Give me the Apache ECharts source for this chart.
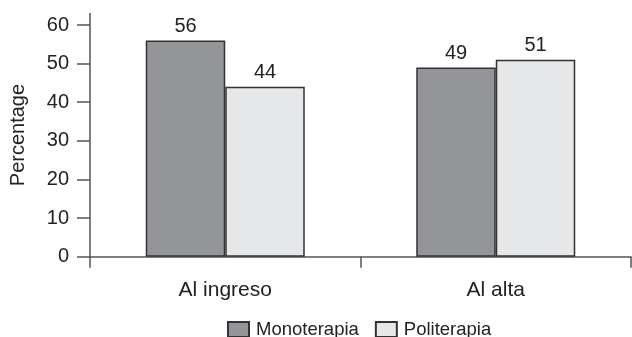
<!DOCTYPE html>
<html>
<head>
<meta charset="utf-8">
<script src="https://cdn.jsdelivr.net/npm/echarts@6/dist/echarts.min.js"></script>
<style>html,body{margin:0;padding:0;background:#fff}#c{width:632px;height:337px}</style>
</head>
<body>
<div id="c"></div>
<script>
var categories = ['Al ingreso', 'Al alta'];
var monoterapia = [56, 49];
var politerapia = [44, 51];
var yTicks = [0, 10, 20, 30, 40, 50, 60];
var seriesNames = ['Monoterapia', 'Politerapia'];

var FONT = '"Liberation Sans", Arial, sans-serif';
var chart = echarts.init(document.getElementById('c'), null, {renderer: 'canvas'});
chart.setOption({
  animation: false,
  backgroundColor: '#fff',
  grid: {left: 90, right: 1, top: 13.4, bottom: 80.3},
  legend: {
    data: seriesNames,
    left: 227, top: 320, padding: 0,
    itemWidth: 21, itemHeight: 15, itemGap: 16,
    textStyle: {fontFamily: FONT, fontSize: 18.5, color: '#222', padding: [0, 0, 0, 2]},
    icon: 'rect'
  },
  xAxis: {
    type: 'category',
    data: categories,
    axisLine: {lineStyle: {color: '#555', width: 1.5}},
    axisTick: {show: true, length: 11, lineStyle: {color: '#555', width: 1.5}},
    axisLabel: {fontFamily: FONT, fontSize: 21, color: '#222', margin: 23}
  },
  yAxis: {
    type: 'value',
    min: 0, max: 63, interval: 10,
    name: 'Percentage',
    nameLocation: 'middle',
    nameGap: 62,
    nameTextStyle: {fontFamily: FONT, fontSize: 20, color: '#222'},
    splitLine: {show: false},
    axisLine: {show: true, lineStyle: {color: '#555', width: 1.5}},
    axisTick: {show: true, length: 13, customValues: yTicks, lineStyle: {color: '#555', width: 1.5}},
    axisLabel: {fontFamily: FONT, fontSize: 20, color: '#222', margin: 21, customValues: yTicks}
  },
  series: [
    {
      name: seriesNames[0], type: 'bar', data: monoterapia,
      barWidth: 79.5, barGap: '0%',
      itemStyle: {color: '#939598', borderColor: '#333', borderWidth: 1.5},
      label: {show: true, position: 'top', distance: 4, fontFamily: FONT, fontSize: 20, color: '#222'}
    },
    {
      name: seriesNames[1], type: 'bar', data: politerapia,
      barWidth: 79.5, barGap: '0%',
      itemStyle: {color: '#e6e7e8', borderColor: '#333', borderWidth: 1.5},
      label: {show: true, position: 'top', distance: 4, fontFamily: FONT, fontSize: 20, color: '#222'}
    }
  ]
});
</script>
</body>
</html>
